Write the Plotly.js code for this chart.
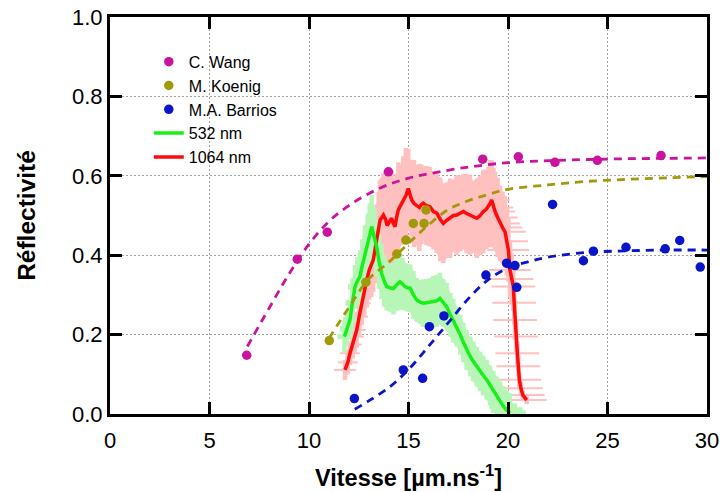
<!DOCTYPE html>
<html>
<head>
<meta charset="utf-8">
<script src="https://cdn.plot.ly/plotly-3.0.1.min.js"></script>
<style>html,body{margin:0;padding:0;background:#fff}#chart{width:720px;height:492px}</style>
</head>
<body>
<div id="chart"></div>
<script>
// ---- C. Wang ----
const wangX = [6.87, 9.41, 10.92, 13.99, 18.73, 20.52, 22.36, 24.49, 27.69];
const wangY = [0.148, 0.39, 0.458, 0.61, 0.642, 0.648, 0.634, 0.639, 0.651];
const wangFitX = [6.9, 8, 9, 10, 11, 12, 13, 14, 15, 16, 18, 20, 22, 24, 26, 28, 30];
const wangFitY = [0.17, 0.267, 0.353, 0.428, 0.485, 0.525, 0.555, 0.578, 0.594, 0.605, 0.622, 0.633, 0.638, 0.641, 0.643, 0.644, 0.645];

// ---- M. Koenig ----
const koenigX = [11.02, 12.86, 14.41, 14.87, 15.24, 15.78, 15.88];
const koenigY = [0.185, 0.332, 0.403, 0.438, 0.48, 0.48, 0.514];
const koenigFitX = [11, 12, 13, 14, 15, 16, 17, 18, 19, 20, 22, 24, 26, 28, 30];
const koenigFitY = [0.19, 0.268, 0.34, 0.382, 0.43, 0.476, 0.515, 0.537, 0.553, 0.566, 0.577, 0.586, 0.591, 0.595, 0.598];

// ---- M.A. Barrios ----
const barriosX = [12.28, 14.74, 15.71, 16.05, 16.78, 18.89, 19.93, 20.35, 20.44, 22.24, 23.79, 24.29, 25.93, 27.9, 28.63, 29.66];
const barriosY = [0.039, 0.111, 0.09, 0.22, 0.247, 0.35, 0.38, 0.374, 0.319, 0.528, 0.386, 0.41, 0.42, 0.416, 0.437, 0.37];
const barriosFitX = [12.3, 13, 14, 15, 16, 17, 18, 19, 20, 21, 22, 24, 26, 28, 30];
const barriosFitY = [0.012, 0.033, 0.066, 0.112, 0.17, 0.23, 0.29, 0.338, 0.368, 0.383, 0.395, 0.407, 0.411, 0.413, 0.413];

// ---- 532 nm ----
const g532X = [11.78, 11.9, 12.06, 12.18, 12.31, 12.43, 12.56, 12.68, 12.81, 12.95, 13.05, 13.15, 13.28, 13.4, 13.52, 13.65, 13.78, 13.9, 14.07, 14.24, 14.4, 14.57, 14.7, 14.82, 14.95, 15.08, 15.25, 15.41, 15.58, 15.74, 15.9, 16.08, 16.25, 16.42, 16.58, 16.75, 16.92, 17.1, 17.25, 17.42, 17.6, 17.76, 17.92, 18.1, 18.26, 18.43, 18.6, 18.76, 18.93, 19.1, 19.26, 19.43, 19.6, 19.76, 19.93, 20.1];
const g532Y = [0.195, 0.215, 0.237, 0.28, 0.32, 0.335, 0.346, 0.375, 0.405, 0.43, 0.45, 0.472, 0.445, 0.421, 0.385, 0.354, 0.335, 0.321, 0.318, 0.316, 0.325, 0.333, 0.328, 0.321, 0.318, 0.317, 0.3, 0.287, 0.282, 0.279, 0.28, 0.282, 0.283, 0.285, 0.291, 0.28, 0.27, 0.25, 0.235, 0.22, 0.2, 0.18, 0.161, 0.145, 0.132, 0.119, 0.107, 0.097, 0.086, 0.072, 0.058, 0.044, 0.032, 0.02, 0.01, 0.002];
const g532Err = [0.04, 0.04, 0.045, 0.05, 0.055, 0.06, 0.06, 0.065, 0.07, 0.075, 0.08, 0.08, 0.075, 0.07, 0.07, 0.065, 0.065, 0.06, 0.06, 0.065, 0.065, 0.07, 0.065, 0.06, 0.06, 0.06, 0.06, 0.055, 0.055, 0.06, 0.06, 0.06, 0.065, 0.065, 0.065, 0.06, 0.06, 0.055, 0.055, 0.05, 0.05, 0.05, 0.05, 0.05, 0.05, 0.05, 0.05, 0.05, 0.05, 0.05, 0.05, 0.05, 0.05, 0.05, 0.05, 0.05];
const g532ErrX = [0.35, 0.35, 0.35, 0.35, 0.35, 0.35, 0.35, 0.35, 0.35, 0.35, 0.35, 0.35, 0.35, 0.35, 0.35, 0.35, 0.35, 0.35, 0.35, 0.35, 0.35, 0.35, 0.35, 0.35, 0.35, 0.35, 0.35, 0.35, 0.35, 0.35, 0.35, 0.35, 0.35, 0.35, 0.35, 0.35, 0.35, 0.35, 0.35, 0.35, 0.35, 0.35, 0.35, 0.4, 0.4, 0.4, 0.45, 0.45, 0.5, 0.5, 0.55, 0.6, 0.6, 0.7, 0.8, 0.8];

// ---- 1064 nm ----
const r1064X = [11.81, 11.95, 12.06, 12.2, 12.3, 12.4, 12.52, 12.65, 12.78, 12.9, 13.03, 13.13, 13.23, 13.32, 13.4, 13.5, 13.57, 13.66, 13.74, 13.85, 13.92, 13.99, 14.07, 14.15, 14.24, 14.32, 14.4, 14.49, 14.6, 14.74, 14.87, 14.99, 15.08, 15.16, 15.28, 15.41, 15.55, 15.65, 15.74, 15.9, 16.08, 16.25, 16.42, 16.6, 16.75, 16.92, 17.09, 17.25, 17.42, 17.6, 17.76, 17.92, 18.09, 18.25, 18.43, 18.6, 18.76, 18.9, 19.01, 19.1, 19.18, 19.27, 19.35, 19.48, 19.6, 19.72, 19.85, 19.95, 20.02, 20.1, 20.18, 20.27, 20.31, 20.35, 20.41, 20.47, 20.52, 20.57, 20.65, 20.74, 20.94];
const r1064Y = [0.111, 0.13, 0.153, 0.175, 0.195, 0.212, 0.245, 0.279, 0.31, 0.338, 0.363, 0.375, 0.388, 0.415, 0.438, 0.465, 0.489, 0.495, 0.501, 0.49, 0.475, 0.48, 0.485, 0.493, 0.48, 0.472, 0.495, 0.514, 0.525, 0.539, 0.55, 0.568, 0.55, 0.539, 0.53, 0.526, 0.52, 0.528, 0.531, 0.525, 0.522, 0.51, 0.506, 0.49, 0.48, 0.488, 0.493, 0.5, 0.501, 0.505, 0.51, 0.505, 0.501, 0.497, 0.493, 0.5, 0.51, 0.515, 0.522, 0.53, 0.539, 0.52, 0.51, 0.495, 0.48, 0.47, 0.459, 0.435, 0.413, 0.363, 0.34, 0.321, 0.28, 0.237, 0.195, 0.153, 0.12, 0.086, 0.065, 0.048, 0.035];
const r1064ErrY = [0.025, 0.03, 0.03, 0.035, 0.04, 0.045, 0.05, 0.055, 0.065, 0.07, 0.075, 0.08, 0.08, 0.085, 0.09, 0.095, 0.1, 0.1, 0.105, 0.12, 0.13, 0.12, 0.11, 0.12, 0.11, 0.1, 0.11, 0.12, 0.1, 0.11, 0.12, 0.1, 0.09, 0.1, 0.11, 0.1, 0.11, 0.1, 0.09, 0.1, 0.1, 0.095, 0.1, 0.105, 0.1, 0.095, 0.1, 0.09, 0.1, 0.095, 0.095, 0.1, 0.1, 0.09, 0.1, 0.1, 0.105, 0.1, 0.1, 0.11, 0.1, 0.1, 0.1, 0.1, 0.095, 0.09, 0.09, 0.085, 0.08, 0.07, 0.065, 0.06, 0.055, 0.05, 0.04, 0.03, 0.025, 0.02, 0.015, 0.01, 0.01];
const r1064ErrX = [0.55, 0.5, 0.5, 0.45, 0.45, 0.45, 0.45, 0.45, 0.45, 0.45, 0.45, 0.45, 0.45, 0.45, 0.45, 0.45, 0.45, 0.45, 0.45, 0.45, 0.45, 0.45, 0.45, 0.45, 0.45, 0.45, 0.45, 0.45, 0.45, 0.45, 0.45, 0.45, 0.45, 0.45, 0.45, 0.45, 0.45, 0.45, 0.45, 0.45, 0.45, 0.45, 0.45, 0.45, 0.45, 0.45, 0.45, 0.45, 0.45, 0.45, 0.45, 0.45, 0.45, 0.45, 0.45, 0.5, 0.55, 0.6, 0.7, 0.8, 0.9, 1.0, 1.0, 1.0, 1.0, 1.0, 1.05, 1.05, 1.05, 1.05, 1.1, 1.1, 1.1, 1.1, 1.1, 1.1, 1.1, 1.1, 1.1, 1.1, 1.0];

const legendNames = ['C. Wang', 'M. Koenig', 'M.A. Barrios', '532 nm', '1064 nm'];
const cWang = '#c8149f', cKoenig = '#a19a08', cBarrios = '#0a14c8';
const cGreen = '#19f019', cRed = '#ff0a0a';
const cPink = 'rgb(255,192,192)', cLightGreen = 'rgb(184,246,184)';
const FONT = 'Liberation Sans, Arial, sans-serif';

const lo = (ys, es) => ys.map((v, i) => v - es[i]);
const hi = (ys, es) => ys.map((v, i) => v + es[i]);

const bandLine = {width: 0};
const traces = [
  // 1064 nm uncertainty (filled envelope + error bars)
  { x: r1064X, y: lo(r1064Y, r1064ErrY), mode: 'lines', line: bandLine, showlegend: false, hoverinfo: 'skip' },
  { x: r1064X, y: hi(r1064Y, r1064ErrY), mode: 'lines', line: bandLine, fill: 'tonexty', fillcolor: cPink, showlegend: false, hoverinfo: 'skip' },
  { x: r1064X, y: r1064Y, mode: 'markers', marker: {size: 1, opacity: 0}, showlegend: false, hoverinfo: 'skip',
    error_y: {type: 'data', array: r1064ErrY, color: cPink, thickness: 4.5, width: 0},
    error_x: {type: 'data', array: r1064ErrX, color: cPink, thickness: 2, width: 0} },
  // 532 nm uncertainty
  { x: g532X, y: lo(g532Y, g532Err), mode: 'lines', line: bandLine, showlegend: false, hoverinfo: 'skip' },
  { x: g532X, y: hi(g532Y, g532Err), mode: 'lines', line: bandLine, fill: 'tonexty', fillcolor: cLightGreen, showlegend: false, hoverinfo: 'skip' },
  { x: g532X, y: g532Y, mode: 'markers', marker: {size: 1, opacity: 0}, showlegend: false, hoverinfo: 'skip',
    error_y: {type: 'data', array: g532Err, color: cLightGreen, thickness: 4.5, width: 0},
    error_x: {type: 'data', array: g532ErrX, color: cLightGreen, thickness: 5.5, width: 0} },
  { x: r1064X, y: r1064Y, mode: 'lines', name: legendNames[4], legendrank: 5, line: {color: cRed, width: 3.5} },
  { x: g532X, y: g532Y, mode: 'lines', name: legendNames[3], legendrank: 4, line: {color: cGreen, width: 3.5} },
  { x: wangFitX, y: wangFitY, mode: 'lines', showlegend: false, line: {color: cWang, width: 2.8, dash: '8px,6px', shape: 'spline'} },
  { x: koenigFitX, y: koenigFitY, mode: 'lines', showlegend: false, line: {color: cKoenig, width: 2.8, dash: '8px,6px', shape: 'spline'} },
  { x: barriosFitX, y: barriosFitY, mode: 'lines', showlegend: false, line: {color: cBarrios, width: 2.8, dash: '8px,6px', shape: 'spline'} },
  { x: wangX, y: wangY, mode: 'markers', name: legendNames[0], legendrank: 1, marker: {color: cWang, size: 9.5} },
  { x: koenigX, y: koenigY, mode: 'markers', name: legendNames[1], legendrank: 2, marker: {color: cKoenig, size: 9.5} },
  { x: barriosX, y: barriosY, mode: 'markers', name: legendNames[2], legendrank: 3, marker: {color: cBarrios, size: 9.5} }
];

const axisCommon = {
  showline: true, linecolor: '#000', linewidth: 3, mirror: 'ticks',
  ticks: 'inside', ticklen: 12, tickwidth: 3, tickcolor: '#000',
  showgrid: true, gridcolor: '#a0a0a0', gridwidth: 1, griddash: '2px,2px',
  zeroline: false, tickfont: {family: FONT, size: 22, color: '#000'}
};

const layout = {
  width: 720, height: 492,
  margin: {l: 110, r: 13, t: 17, b: 78},
  paper_bgcolor: '#fff', plot_bgcolor: '#fff',
  showlegend: true,
  legend: {x: 0.065, y: 0.93, xanchor: 'left', yanchor: 'top', bgcolor: 'rgba(0,0,0,0)',
           traceorder: 'normal',
           font: {family: FONT, size: 16, color: '#000'},
           tracegroupgap: 0, itemwidth: 30},
  xaxis: Object.assign({}, axisCommon, {range: [0, 30], tickvals: [0, 5, 10, 15, 20, 25, 30], ticktext: ['0','5','10','15','20','25','30'],
    ticklabelstandoff: 5,
    title: {text: '<b>Vitesse [µm.ns<sup>-1</sup>]</b>', font: {family: FONT, size: 23.5, color: '#000'}, standoff: 18}}),
  yaxis: Object.assign({}, axisCommon, {range: [0, 1], tickvals: [0, 0.2, 0.4, 0.6, 0.8, 1.0], ticktext: ['0.0','0.2','0.4','0.6','0.8','1.0'],
    title: {text: '<b>Réflectivité</b>', font: {family: FONT, size: 24.5, color: '#000'}, standoff: 30}})
};

Plotly.newPlot('chart', traces, layout, {staticPlot: true, displayModeBar: false});
</script>
</body>
</html>
